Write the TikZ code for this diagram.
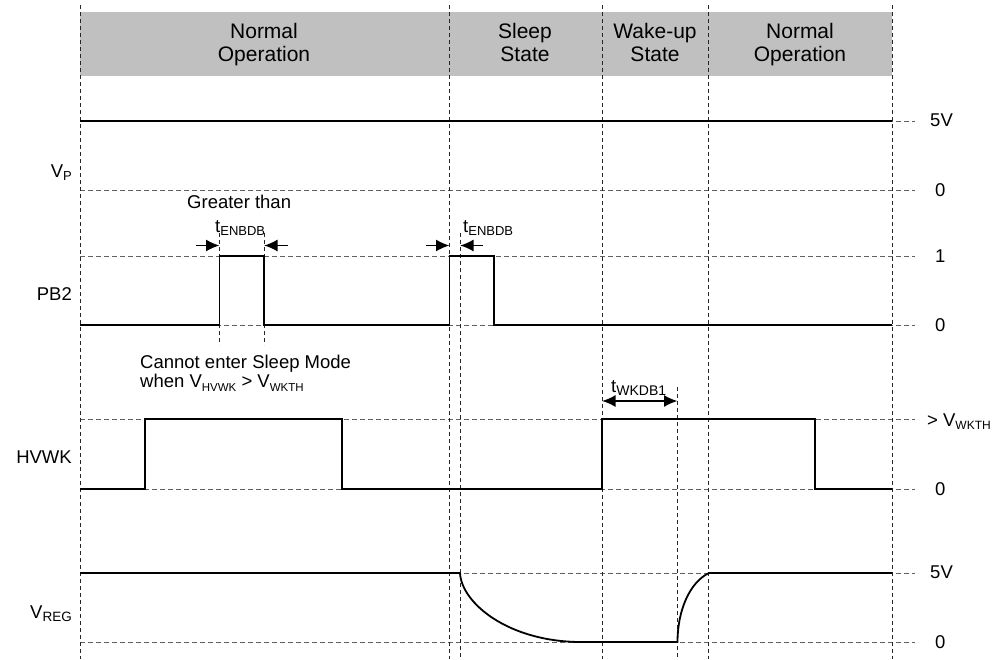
\documentclass[tikz,border=0pt]{standalone}
\usepackage{fontspec}
\setmainfont{Liberation Sans}
\usetikzlibrary{arrows.meta}
\definecolor{hdrgray}{HTML}{C0C0C0}
\definecolor{dashgray}{HTML}{606060}
\newcommand\lsub[2][12.5]{\raisebox{-0.2em}{\fontsize{#1}{#1}\selectfont #2}}
\begin{document}
\begin{tikzpicture}[x=1pt,y=-1pt,
  sig/.style={line width=1.8pt, line join=miter},
  refdash/.style={dashgray, line width=0.9pt, dash pattern=on 5pt off 3pt},
  divdash/.style={black!85, line width=0.9pt, dash pattern=on 4pt off 3pt},
  hdrtext/.style={font=\fontsize{21}{23.5}\selectfont, align=center, anchor=north, inner sep=0pt},
  lbl/.style={font=\fontsize{18.5}{18}\selectfont, inner sep=0pt},
  tipr/.style={-{Latex[length=13.5pt,width=12pt]}, line width=1.7pt},
  tipb/.style={{Latex[length=13.5pt,width=12pt]}-{Latex[length=13.5pt,width=12pt]}, line width=1.7pt},
]
\useasboundingbox (0,0) rectangle (995,659);
% header band
\fill[hdrgray] (80,12) rectangle (892,76);
\node[hdrtext] (h1) at (264,23) {Normal\\Operation};
\node[hdrtext] (h2) at (525,23) {Sleep\\State};
\node[hdrtext] (h3) at (655,23) {Wake-up\\State};
\node[hdrtext] (h4) at (800,23) {Normal\\Operation};
% horizontal reference lines
\foreach \yy in {121,190,256,325,419,489,573,642}
  \draw[refdash] (80,\yy) -- (915,\yy);
% vertical dividers
\foreach \xx in {80,449.5,602,708.5,892}
  \draw[divdash] (\xx,5) -- (\xx,659);
\draw[divdash] (219.5,233) -- (219.5,345);
\draw[divdash] (264,233) -- (264,345);
\draw[divdash] (460,233) -- (460,659);
\draw[divdash] (677.5,387) -- (677.5,659);
% signals
\draw[sig] (80,121) -- (892,121);
\draw[sig] (80,325) -- (219.5,325) -- (219.5,256) -- (264,256) -- (264,325)
  -- (449.5,325) -- (449.5,256) -- (494,256) -- (494,325) -- (892,325);
\draw[sig] (80,489) -- (145,489) -- (145,419) -- (342,419) -- (342,489)
  -- (602,489) -- (602,419) -- (815,419) -- (815,489) -- (892,489);
\draw[sig] (80,573) -- (460,573) .. controls (461.5,603) and (508,641.5) .. (580,642)
  -- (677.5,642) .. controls (677.5,610) and (690,582) .. (709,573) -- (892,573);
% left labels
\node[lbl, anchor=base east] (lvp) at (72,177) {V\lsub[13]{P}};
\node[lbl, anchor=base east] (lpb) at (72,300) {PB2};
\node[lbl, anchor=base east] (lhv) at (72,463) {HVWK};
\node[lbl, anchor=base east] (lvr) at (72,618) {V\lsub[13.5]{REG}};
% right labels
\node[lbl, anchor=base west] (r1) at (930,126) {5V};
\node[lbl, anchor=base west] (r2) at (935,196.5) {0};
\node[lbl, anchor=base west] (r3) at (935,262.5) {1};
\node[lbl, anchor=base west] (r4) at (935,331.5) {0};
\node[lbl, anchor=base west] (r5) at (927,426) {> V\lsub[12]{WKTH}};
\node[lbl, anchor=base west] (r6) at (935,495.5) {0};
\node[lbl, anchor=base west] (r7) at (930,578) {5V};
\node[lbl, anchor=base west] (r8) at (935,648.5) {0};
% annotations
\node[lbl, anchor=base west] (gt) at (187,208) {Greater than};
\node[lbl, anchor=base west] (t1) at (215,232) {t\lsub[13]{ENBDB}};
\node[lbl, anchor=base west] (t2) at (463,232) {t\lsub[13]{ENBDB}};
\node[lbl, anchor=north west, align=left, font=\fontsize{18.5}{19}\selectfont] (cn) at (140,355)
  {Cannot enter Sleep Mode\\when V\lsub[11.5]{HVWK} > V\lsub[11.5]{WKTH}};
\node[lbl, anchor=base west] (tw) at (611,392) {t\lsub[14]{WKDB1}};
% arrows
\coordinate (a1s) at (196,245.5); \coordinate (a1e) at (219.5,245.5);
\coordinate (a2s) at (288,245.5); \coordinate (a2e) at (264,245.5);
\coordinate (a3s) at (426,245.5); \coordinate (a3e) at (449.5,245.5);
\coordinate (a4s) at (483,245.5); \coordinate (a4e) at (460,245.5);
\coordinate (w1) at (602,401); \coordinate (w2) at (677.5,401);
\draw[tipr] (a1s) -- (a1e);
\draw[tipr] (a2s) -- (a2e);
\draw[tipr] (a3s) -- (a3e);
\draw[tipr] (a4s) -- (a4e);
\draw[tipb] (w1) -- (w2);
\end{tikzpicture}
\end{document}
